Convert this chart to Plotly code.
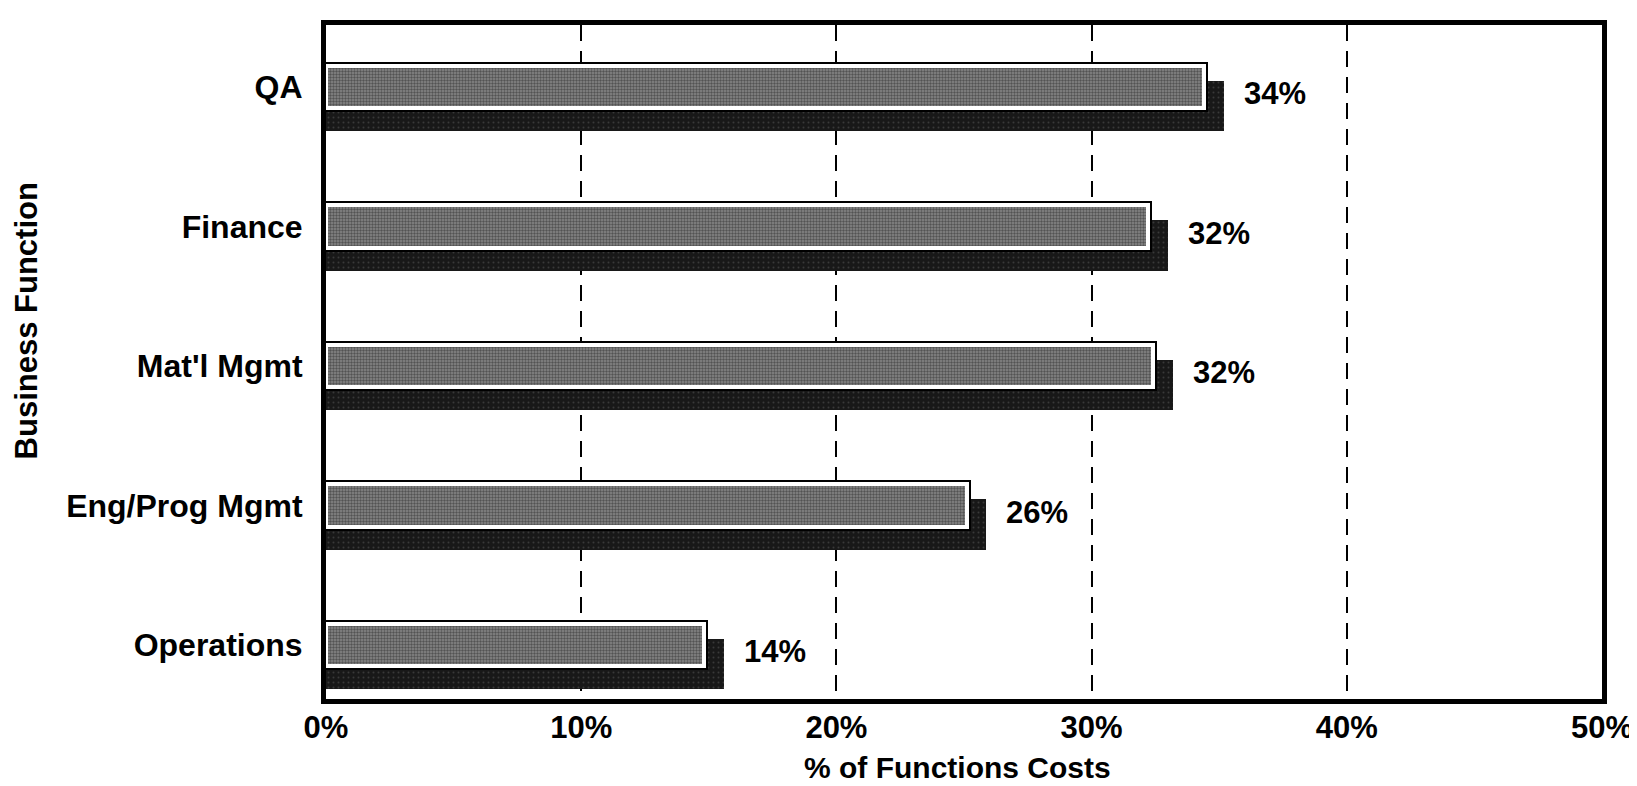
import plotly.graph_objects as go

# ---- data ----
categories = ["QA", "Finance", "Mat'l Mgmt", "Eng/Prog Mgmt", "Operations"]
front_values = [34.4, 32.2, 32.4, 25.1, 14.8]          # % (front face of bar)
value_labels = ["34%", "32%", "32%", "26%", "14%"]
x_ticks = [0, 10, 20, 30, 40, 50]
x_tick_labels = ["0%", "10%", "20%", "30%", "40%", "50%"]
x_title = "% of Functions Costs"
y_title = "Business Function"

# ---- style ----
FONT = "Liberation Sans, Arial, Helvetica, sans-serif"
W, H = 1637, 786
L, R, T, B = 318, 37, 17, 95
plot_w = W - L - R
plot_h = H - T - B

positions = list(range(len(categories)))
depth_x = 0.78      # shadow extrusion to the right (in % units)
depth_y = 0.137     # shadow extrusion downward (category units)
bar_w = 0.302

shadow_x = [v + depth_x for v in front_values]
shadow_y = [p + depth_y for p in positions]

fig = go.Figure()

# shadow / extrusion
fig.add_trace(go.Bar(
    x=shadow_x, y=shadow_y, orientation="h", width=bar_w + 0.058,
    marker=dict(color="#1b1b1b", line=dict(width=0),
                pattern=dict(shape=".", bgcolor="#181818", fgcolor="#5a5a5a",
                             size=5, solidity=0.12)),
    hoverinfo="skip", showlegend=False))

# black outer frame of front bar
fig.add_trace(go.Bar(
    x=front_values, y=positions, orientation="h", width=bar_w,
    marker=dict(color="black", line=dict(color="black", width=8)),
    hoverinfo="skip", showlegend=False))

# textured face with white inner rim
fig.add_trace(go.Bar(
    x=front_values, y=positions, orientation="h", width=bar_w,
    marker=dict(color="#6e6e6e", line=dict(color="white", width=4),
                pattern=dict(shape=".", bgcolor="#888888", fgcolor="#1e1e1e",
                             size=3, solidity=0.5)),
    hoverinfo="skip", showlegend=False))

# value labels
for sx, p, lab in zip(shadow_x, positions, value_labels):
    fig.add_annotation(x=sx, y=p + 0.05, text=lab, showarrow=False,
                       xanchor="left", yanchor="middle", xshift=18,
                       font=dict(family=FONT, size=31, color="black", weight="bold"))

# axis titles
fig.add_annotation(xref="paper", yref="paper", x=(952 - L) / plot_w,
                   y=-(759 - (T + plot_h)) / plot_h, text=x_title, showarrow=False,
                   xanchor="center", yanchor="middle",
                   font=dict(family=FONT, size=30, color="black", weight="bold"))
fig.add_annotation(xref="paper", yref="paper", x=(18 - L) / plot_w,
                   y=((T + plot_h) - 313) / plot_h, text=y_title, showarrow=False,
                   textangle=-90, xanchor="center", yanchor="middle",
                   font=dict(family=FONT, size=31, color="black", weight="bold"))

fig.update_layout(
    width=W, height=H,
    margin=dict(l=L, r=R, t=T, b=B),
    paper_bgcolor="white", plot_bgcolor="white",
    barmode="overlay", bargap=0,
    showlegend=False,
    font=dict(family=FONT, color="black"),
)

fig.update_xaxes(
    range=[0, 50], tickvals=x_ticks, ticktext=x_tick_labels,
    showgrid=True, gridcolor="black", gridwidth=2, griddash="16px,10px",
    showline=True, linecolor="black", linewidth=5, mirror=True,
    ticks="", ticklabelstandoff=-3,
    tickfont=dict(family=FONT, size=31, color="black", weight="bold"),
    zeroline=False, fixedrange=True,
)

fig.update_yaxes(
    range=[4.387, -0.444], tickvals=positions, ticktext=categories,
    showgrid=False, zeroline=False,
    showline=True, linecolor="black", linewidth=5, mirror=True,
    ticks="outside", ticklen=12, tickcolor="rgba(0,0,0,0)",
    tickfont=dict(family=FONT, size=32, color="black", weight="bold"),
    fixedrange=True,
)

fig.write_html("out.html")
